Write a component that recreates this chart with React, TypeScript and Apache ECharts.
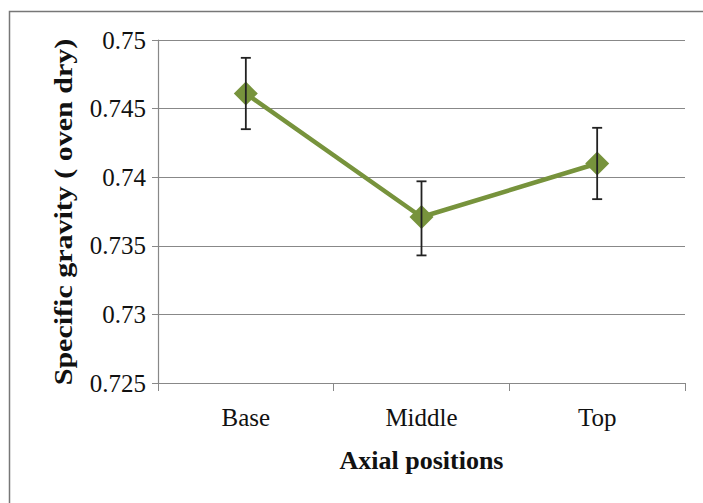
import React, { useEffect, useRef } from "react";
import * as echarts from "echarts";

const categories = ["Base", "Middle", "Top"];
const values = [0.7461, 0.7371, 0.7410];
const errLow = [0.7435, 0.7343, 0.7384];
const errHigh = [0.7487, 0.7397, 0.7436];
const yTicks = { min: 0.725, max: 0.75, interval: 0.005 };

export default function App() {
  const ref = useRef<HTMLDivElement>(null);
  useEffect(() => {
    const chart = echarts.init(ref.current!, null, { renderer: "svg" });
    const font = "Liberation Serif, serif";
    const errData = categories.map((_, i) => [i, errLow[i], errHigh[i]]);
    chart.setOption({
      animation: false,
      backgroundColor: "#fff",
      textStyle: { fontFamily: font },
      grid: { left: 158, right: 18, top: 40, bottom: 120 },
      xAxis: {
        type: "category",
        data: categories,
        boundaryGap: true,
        name: "Axial positions",
        nameLocation: "middle",
        nameGap: 64,
        nameTextStyle: { fontFamily: font, fontSize: 26, fontWeight: "bold", color: "#111" },
        axisLine: { lineStyle: { color: "#888", width: 1.2 } },
        axisTick: { show: true, length: 8, alignWithLabel: false, lineStyle: { color: "#888" } },
        axisLabel: { fontFamily: font, fontWeight: "normal", fontStyle: "normal", fontSize: 25, color: "#111", margin: 22 },
      },
      yAxis: {
        type: "value",
        min: yTicks.min,
        max: yTicks.max,
        interval: yTicks.interval,
        axisLine: { show: true, lineStyle: { color: "#888", width: 1.2 } },
        axisTick: { show: true, length: 6, lineStyle: { color: "#888" } },
        splitLine: { lineStyle: { color: "#888", width: 1.2 } },
        axisLabel: {
          fontFamily: font,
          fontWeight: "normal",
          fontStyle: "normal",
          fontSize: 25,
          color: "#111",
          margin: 12,
          formatter: (v: number) => String(parseFloat(v.toFixed(3))),
        },
      },
      graphic: [
        {
          type: "rect",
          shape: { x: 9.5, y: 11.5, width: 720, height: 520 },
          style: { fill: "none", stroke: "#777", lineWidth: 1.5 },
          silent: true,
        },
        {
          type: "text",
          x: 63,
          y: 212,
          rotation: Math.PI / 2,
          scaleX: 1.2,
          style: {
            text: "Specific gravity ( oven dry)",
            fontFamily: font,
            fontSize: 25,
            fontWeight: "bold",
            fill: "#111",
            textAlign: "center",
            textVerticalAlign: "middle",
          },
        },
      ],
      series: [
        {
          type: "line",
          data: values,
          symbol: "diamond",
          symbolSize: 24,
          itemStyle: { color: "#77933C" },
          lineStyle: { color: "#77933C", width: 4.5 },
          z: 3,
        },
        {
          type: "custom",
          data: errData,
          z: 4,
          renderItem: (params: any, api: any) => {
            const x = api.value(0);
            const lo = api.coord([x, api.value(1)]);
            const hi = api.coord([x, api.value(2)]);
            const cap = 5;
            const st = { stroke: "#222", lineWidth: 1.8 };
            return {
              type: "group",
              children: [
                { type: "line", shape: { x1: lo[0], y1: lo[1], x2: hi[0], y2: hi[1] }, style: st },
                { type: "line", shape: { x1: lo[0] - cap, y1: lo[1], x2: lo[0] + cap, y2: lo[1] }, style: st },
                { type: "line", shape: { x1: hi[0] - cap, y1: hi[1], x2: hi[0] + cap, y2: hi[1] }, style: st },
              ],
            };
          },
        },
      ],
    });
    return () => chart.dispose();
  }, []);
  return <div ref={ref} style={{ width: 703, height: 503, position: "absolute", left: 0, top: 0 }} />;
}
